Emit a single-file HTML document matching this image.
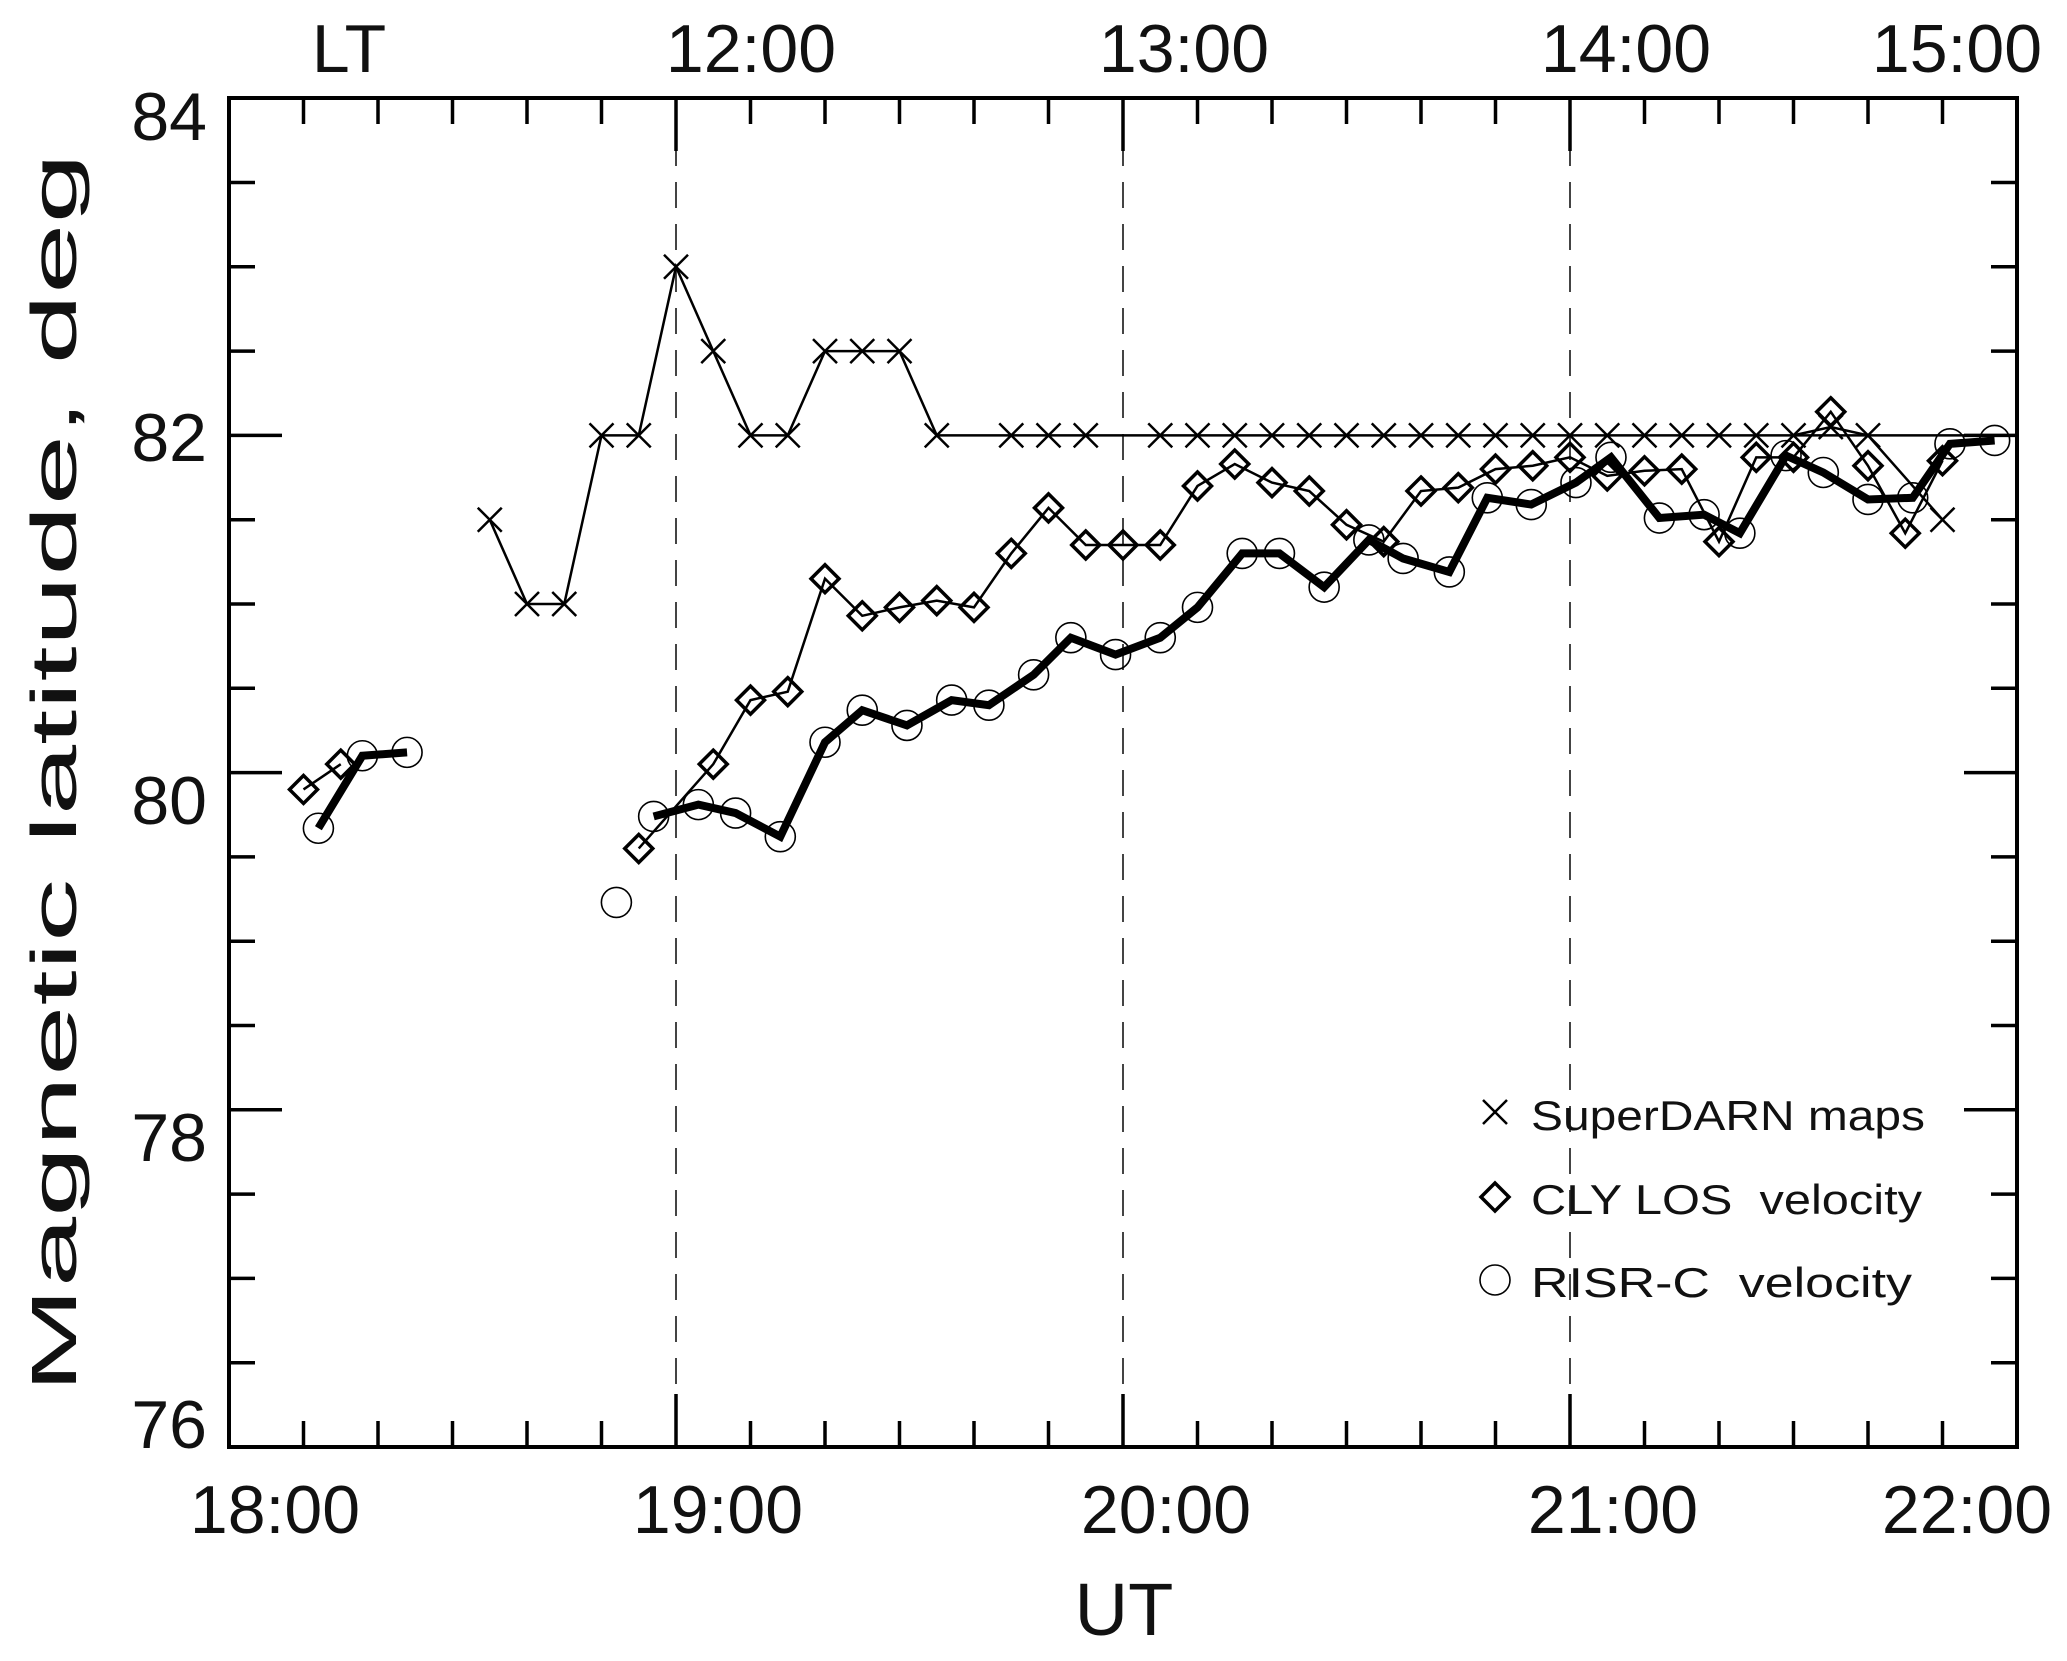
<!DOCTYPE html>
<html><head><meta charset="utf-8"><style>
html,body{margin:0;padding:0;background:#fff}
svg{display:block}
text{font-family:"Liberation Sans",sans-serif;fill:#111}
</style></head><body>
<svg id="s" width="2067" height="1661" viewBox="0 0 2067 1661" xmlns="http://www.w3.org/2000/svg">
<rect width="2067" height="1661" fill="#fff"/>
<g id="g"></g>
<g font-size="68">
<text x="207" y="140" text-anchor="end">84</text>
<text x="207" y="461" text-anchor="end">82</text>
<text x="207" y="824" text-anchor="end">80</text>
<text x="207" y="1161" text-anchor="end">78</text>
<text x="207" y="1448" text-anchor="end">76</text>
<text x="275" y="1533" text-anchor="middle">18:00</text>
<text x="718" y="1533" text-anchor="middle">19:00</text>
<text x="1166" y="1533" text-anchor="middle">20:00</text>
<text x="1613" y="1533" text-anchor="middle">21:00</text>
<text x="1967" y="1533" text-anchor="middle">22:00</text>
<text x="349" y="72" text-anchor="middle">LT</text>
<text x="751" y="72" text-anchor="middle">12:00</text>
<text x="1184" y="72" text-anchor="middle">13:00</text>
<text x="1626" y="72" text-anchor="middle">14:00</text>
<text x="1957" y="72" text-anchor="middle">15:00</text>
</g>
<text x="1124" y="1635" font-size="74" text-anchor="middle">UT</text>
<text transform="translate(76,773) rotate(-90)" font-size="64" text-anchor="middle" textLength="1240" lengthAdjust="spacingAndGlyphs">Magnetic latitude, deg</text>
<g font-size="42">
<text x="1531" y="1130" textLength="394" lengthAdjust="spacingAndGlyphs">SuperDARN maps</text>
<text x="1531" y="1214" textLength="391" lengthAdjust="spacingAndGlyphs" xml:space="preserve">CLY LOS  velocity</text>
<text x="1531" y="1297" textLength="381" lengthAdjust="spacingAndGlyphs" xml:space="preserve">RISR-C  velocity</text>
</g>
</svg>
<script>
(function(){
var g=document.getElementById('g');
function X(t){return 229+t*7.45}
function Y(l){return 1447-(l-76)*168.6}
var h='';
[60,120,180].forEach(function(t){h+='<line x1="'+X(t)+'" y1="98" x2="'+X(t)+'" y2="1447" stroke="#444" stroke-width="2" stroke-dasharray="26,16"/>';});
for(var t=10;t<240;t+=10){var L=(t%60==0)?53:26;
h+='<line x1="'+X(t)+'" y1="1447" x2="'+X(t)+'" y2="'+(1447-L)+'" stroke="#000" stroke-width="3.5"/>';
h+='<line x1="'+X(t)+'" y1="98" x2="'+X(t)+'" y2="'+(98+L)+'" stroke="#000" stroke-width="3.5"/>';}
for(var l=76.5;l<84;l+=0.5){var L=(l%2==0)?53:26;
h+='<line x1="229" y1="'+Y(l)+'" x2="'+(229+L)+'" y2="'+Y(l)+'" stroke="#000" stroke-width="3.5"/>';
h+='<line x1="2017" y1="'+Y(l)+'" x2="'+(2017-L)+'" y2="'+Y(l)+'" stroke="#000" stroke-width="3.5"/>';}
h+='<rect x="229" y="98" width="1788" height="1349" fill="none" stroke="#000" stroke-width="4"/>';
function pl(pts,w){return '<polyline fill="none" stroke="#000" stroke-width="'+w+'" stroke-linejoin="miter" points="'+pts.map(function(p){return X(p[0])+','+Y(p[1])}).join(' ')+'"/>';}
function cross(x,y){var s=12;return '<path d="M'+(x-s)+' '+(y-s)+'L'+(x+s)+' '+(y+s)+'M'+(x-s)+' '+(y+s)+'L'+(x+s)+' '+(y-s)+'" stroke="#000" stroke-width="2.5"/>';}
function dia(x,y){var s=14;return '<path d="M'+x+' '+(y-s)+'L'+(x+s)+' '+y+'L'+x+' '+(y+s)+'L'+(x-s)+' '+y+'Z" fill="none" stroke="#000" stroke-width="3.5"/>';}
function circ(x,y){return '<circle cx="'+x+'" cy="'+y+'" r="15" fill="none" stroke="#000" stroke-width="1.6"/>';}
var sd=[[35,81.5],[40,81],[45,81],[50,82],[55,82],[60,83],[65,82.5],[70,82],[75,82],[80,82.5],[85,82.5],[90,82.5],[95,82]];
var sdm=sd.slice();
[105,110,115].forEach(function(t){sdm.push([t,82])});
for(var t=125;t<=210;t+=5)sdm.push([t,82]);
sdm.push([215,82.05]);sdm.push([220,82]);sdm.push([230,81.5]);
h+=pl(sd,2.5);
h+='<line x1="'+X(95)+'" y1="'+Y(82)+'" x2="2017" y2="'+Y(82)+'" stroke="#000" stroke-width="2.5"/>';
h+=pl([[210,82],[215,82.05],[220,82],[230,81.5]],2.5);
var c1=[[10,79.9],[15,80.05]];
var cv=[79.55,null,80.05,80.43,80.48,81.15,80.93,80.98,81.02,80.98,81.3,81.57,81.35,81.35,81.35,81.7,81.83,81.72,81.67,81.47,81.37,81.67,81.69,81.8,81.82,81.87,81.76,81.79,81.8,81.37,81.87,81.87,82.14,81.82,81.42,81.85];
var c2=[];for(var i=0;i<cv.length;i++)if(cv[i]!==null)c2.push([55+5*i,cv[i]]);
h+=pl(c1,2.5)+pl(c2,2.5);
var r1=[[12,79.67],[17.9,80.1],[23.9,80.12]];
var r2=[[57,79.74],[63,79.81],[68,79.76],[74,79.62],[80,80.18],[85,80.37],[91,80.28],[97,80.43],[102,80.4],[108,80.58],[113,80.8],[119,80.7],[125,80.8],[130,80.98],[136,81.3],[141,81.3],[147,81.1],[153,81.38],[157.6,81.27],[163.8,81.19],[168.9,81.63],[174.8,81.59],[180.8,81.72],[185.5,81.87],[192,81.51],[198,81.53],[202.8,81.42],[209,81.88],[214,81.78],[220,81.62],[226,81.63],[231,81.95],[237,81.97]];
h+=pl(r1,8)+pl(r2,8);
sdm.forEach(function(p){h+=cross(X(p[0]),Y(p[1]))});
c1.concat(c2).forEach(function(p){h+=dia(X(p[0]),Y(p[1]))});
r1.concat(r2).concat([[52,79.23]]).forEach(function(p){h+=circ(X(p[0]),Y(p[1]))});
h+=cross(1495,1112)+dia(1495,1197)+circ(1495,1280);
g.innerHTML=h;
})();
</script>
</body></html>
